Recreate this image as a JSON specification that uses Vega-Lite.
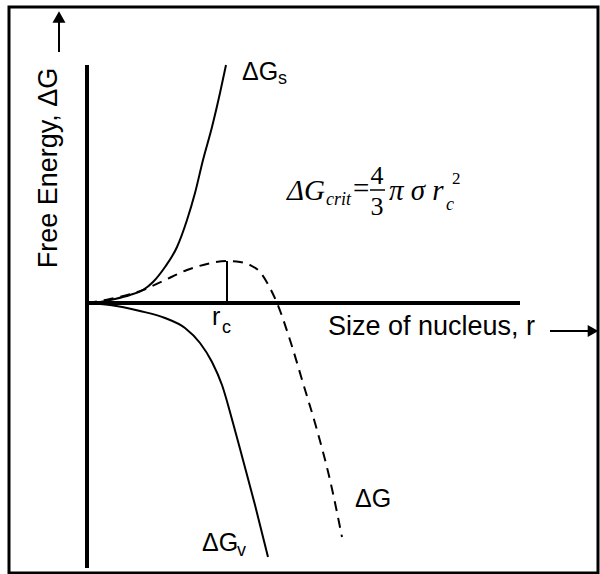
{
  "$schema": "https://vega.github.io/schema/vega-lite/v6.json",
  "width": 600,
  "height": 574,
  "padding": 0,
  "autosize": {"type": "none"},
  "background": "white",
  "config": {"view": {"stroke": null}},
  "datasets": {
    "frame": [{"x": -78, "x2": 511, "y": 296, "y2": -270}],
    "axes": [
      {"x": 0, "x2": 0, "y": 238, "y2": -265},
      {"x": 0, "x2": 433, "y": 0, "y2": 0}
    ],
    "thin": [
      {"x": 140, "x2": 140, "y": 0, "y2": 42},
      {"x": -28, "x2": -28, "y": 251, "y2": 282},
      {"x": 463, "x2": 503, "y": -28, "y2": -28}
    ],
    "bar": [{"x": 283, "x2": 298, "y": 113, "y2": 113}],
    "headsUp": [{"x": -28, "y": 286}],
    "headsRight": [{"x": 506, "y": -28}],
    "curves": [
      {"series": "Gs", "i": 0, "x": 0, "y": 0},
      {"series": "Gs", "i": 1, "x": 13, "y": 1},
      {"series": "Gs", "i": 2, "x": 28, "y": 4},
      {"series": "Gs", "i": 3, "x": 43, "y": 8},
      {"series": "Gs", "i": 4, "x": 56, "y": 13},
      {"series": "Gs", "i": 5, "x": 66, "y": 21},
      {"series": "Gs", "i": 6, "x": 78, "y": 36},
      {"series": "Gs", "i": 7, "x": 90, "y": 56},
      {"series": "Gs", "i": 8, "x": 100, "y": 83},
      {"series": "Gs", "i": 9, "x": 108, "y": 110},
      {"series": "Gs", "i": 10, "x": 116, "y": 143},
      {"series": "Gs", "i": 11, "x": 125, "y": 176},
      {"series": "Gs", "i": 12, "x": 133, "y": 210},
      {"series": "Gs", "i": 13, "x": 139, "y": 238},
      {"series": "Gv", "i": 0, "x": 0, "y": 0},
      {"series": "Gv", "i": 1, "x": 23, "y": -2},
      {"series": "Gv", "i": 2, "x": 53, "y": -8},
      {"series": "Gv", "i": 3, "x": 78, "y": -15},
      {"series": "Gv", "i": 4, "x": 98, "y": -25},
      {"series": "Gv", "i": 5, "x": 113, "y": -40},
      {"series": "Gv", "i": 6, "x": 125, "y": -59},
      {"series": "Gv", "i": 7, "x": 135, "y": -82},
      {"series": "Gv", "i": 8, "x": 146, "y": -120},
      {"series": "Gv", "i": 9, "x": 156, "y": -157},
      {"series": "Gv", "i": 10, "x": 168, "y": -202},
      {"series": "Gv", "i": 11, "x": 181, "y": -254},
      {"series": "G", "i": 0, "x": 0, "y": 0},
      {"series": "G", "i": 1, "x": 23, "y": 4},
      {"series": "G", "i": 2, "x": 56, "y": 13},
      {"series": "G", "i": 3, "x": 76, "y": 22},
      {"series": "G", "i": 4, "x": 100, "y": 33},
      {"series": "G", "i": 5, "x": 120, "y": 39},
      {"series": "G", "i": 6, "x": 140, "y": 42},
      {"series": "G", "i": 7, "x": 153, "y": 41},
      {"series": "G", "i": 8, "x": 163, "y": 38},
      {"series": "G", "i": 9, "x": 173, "y": 31},
      {"series": "G", "i": 10, "x": 183, "y": 15},
      {"series": "G", "i": 11, "x": 190, "y": 0},
      {"series": "G", "i": 12, "x": 203, "y": -37},
      {"series": "G", "i": 13, "x": 216, "y": -80},
      {"series": "G", "i": 14, "x": 230, "y": -127},
      {"series": "G", "i": 15, "x": 243, "y": -177},
      {"series": "G", "i": 16, "x": 255, "y": -234}
    ],
    "labels": [
      {"x": 155, "y": 223, "t": "ΔG"},
      {"x": 125, "y": -22, "t": "r"},
      {"x": 115, "y": -248, "t": "ΔG"},
      {"x": 268, "y": -204, "t": "ΔG"}
    ],
    "subs": [
      {"x": 191, "y": 219, "t": "s"},
      {"x": 135, "y": -30, "t": "c"},
      {"x": 150, "y": -253, "t": "v"}
    ],
    "xtitle": [{"x": 241, "y": -32, "t": "Size of nucleus, r"}],
    "ytitle": [{"x": -30, "y": 135, "t": "Free Energy, ΔG"}],
    "fbig": [
      {"x": 200, "y": 103, "t": "ΔG"},
      {"x": 302, "y": 103, "t": "π σ r"}
    ],
    "fsmall": [
      {"x": 239, "y": 98, "t": "crit"},
      {"x": 359, "y": 93, "t": "c"}
    ],
    "feq": [{"x": 266, "y": 105, "t": "="}],
    "fdig": [
      {"x": 290, "y": 119, "t": "4"},
      {"x": 290, "y": 88, "t": "3"}
    ],
    "fsup": [{"x": 365, "y": 119, "t": "2"}]
  },
  "encoding": {
    "x": {"field": "x", "type": "quantitative", "scale": {"domain": [-87, 513], "nice": false, "zero": false}, "axis": null},
    "y": {"field": "y", "type": "quantitative", "scale": {"domain": [-271, 303], "nice": false, "zero": false}, "axis": null}
  },
  "layer": [
    {
      "data": {"name": "frame"},
      "mark": {"type": "rect", "filled": false, "stroke": "black", "strokeWidth": 3},
      "encoding": {"x2": {"field": "x2"}, "y2": {"field": "y2"}}
    },
    {
      "data": {"name": "axes"},
      "mark": {"type": "rule", "color": "black", "strokeWidth": 4},
      "encoding": {"x2": {"field": "x2"}, "y2": {"field": "y2"}}
    },
    {
      "data": {"name": "thin"},
      "mark": {"type": "rule", "color": "black", "strokeWidth": 2},
      "encoding": {"x2": {"field": "x2"}, "y2": {"field": "y2"}}
    },
    {
      "data": {"name": "bar"},
      "mark": {"type": "rule", "color": "black", "strokeWidth": 1.5},
      "encoding": {"x2": {"field": "x2"}, "y2": {"field": "y2"}}
    },
    {
      "data": {"name": "headsUp"},
      "mark": {"type": "point", "shape": "triangle-up", "filled": true, "color": "black", "size": 170, "opacity": 1}
    },
    {
      "data": {"name": "headsRight"},
      "mark": {"type": "point", "shape": "triangle-right", "filled": true, "color": "black", "size": 150, "opacity": 1}
    },
    {
      "data": {"name": "curves"},
      "transform": [{"filter": "datum.series !== 'G'"}],
      "mark": {"type": "line", "color": "black", "strokeWidth": 2, "interpolate": "monotone"},
      "encoding": {"detail": {"field": "series"}, "order": {"field": "i", "type": "quantitative"}}
    },
    {
      "data": {"name": "curves"},
      "transform": [{"filter": "datum.series === 'G'"}],
      "mark": {"type": "line", "color": "black", "strokeWidth": 2, "strokeDash": [10, 7], "interpolate": "monotone"},
      "encoding": {"order": {"field": "i", "type": "quantitative"}}
    },
    {
      "data": {"name": "labels"},
      "mark": {"type": "text", "font": "Liberation Sans", "fontSize": 25, "align": "left", "baseline": "alphabetic", "color": "black"},
      "encoding": {"text": {"field": "t"}}
    },
    {
      "data": {"name": "subs"},
      "mark": {"type": "text", "font": "Liberation Sans", "fontSize": 18, "align": "left", "baseline": "alphabetic", "color": "black"},
      "encoding": {"text": {"field": "t"}}
    },
    {
      "data": {"name": "xtitle"},
      "mark": {"type": "text", "font": "Liberation Sans", "fontSize": 27, "align": "left", "baseline": "alphabetic", "color": "black"},
      "encoding": {"text": {"field": "t"}}
    },
    {
      "data": {"name": "ytitle"},
      "mark": {"type": "text", "font": "Liberation Sans", "fontSize": 27, "align": "center", "baseline": "alphabetic", "angle": 270, "color": "black"},
      "encoding": {"text": {"field": "t"}}
    },
    {
      "data": {"name": "fbig"},
      "mark": {"type": "text", "font": "Liberation Serif", "fontStyle": "italic", "fontSize": 29, "align": "left", "baseline": "alphabetic", "color": "black"},
      "encoding": {"text": {"field": "t"}}
    },
    {
      "data": {"name": "fsmall"},
      "mark": {"type": "text", "font": "Liberation Serif", "fontStyle": "italic", "fontSize": 18, "align": "left", "baseline": "alphabetic", "color": "black"},
      "encoding": {"text": {"field": "t"}}
    },
    {
      "data": {"name": "feq"},
      "mark": {"type": "text", "font": "Liberation Serif", "fontSize": 29, "align": "left", "baseline": "alphabetic", "color": "black"},
      "encoding": {"text": {"field": "t"}}
    },
    {
      "data": {"name": "fdig"},
      "mark": {"type": "text", "font": "Liberation Serif", "fontSize": 26, "align": "center", "baseline": "alphabetic", "color": "black"},
      "encoding": {"text": {"field": "t"}}
    },
    {
      "data": {"name": "fsup"},
      "mark": {"type": "text", "font": "Liberation Serif", "fontSize": 17, "align": "left", "baseline": "alphabetic", "color": "black"},
      "encoding": {"text": {"field": "t"}}
    }
  ]
}
